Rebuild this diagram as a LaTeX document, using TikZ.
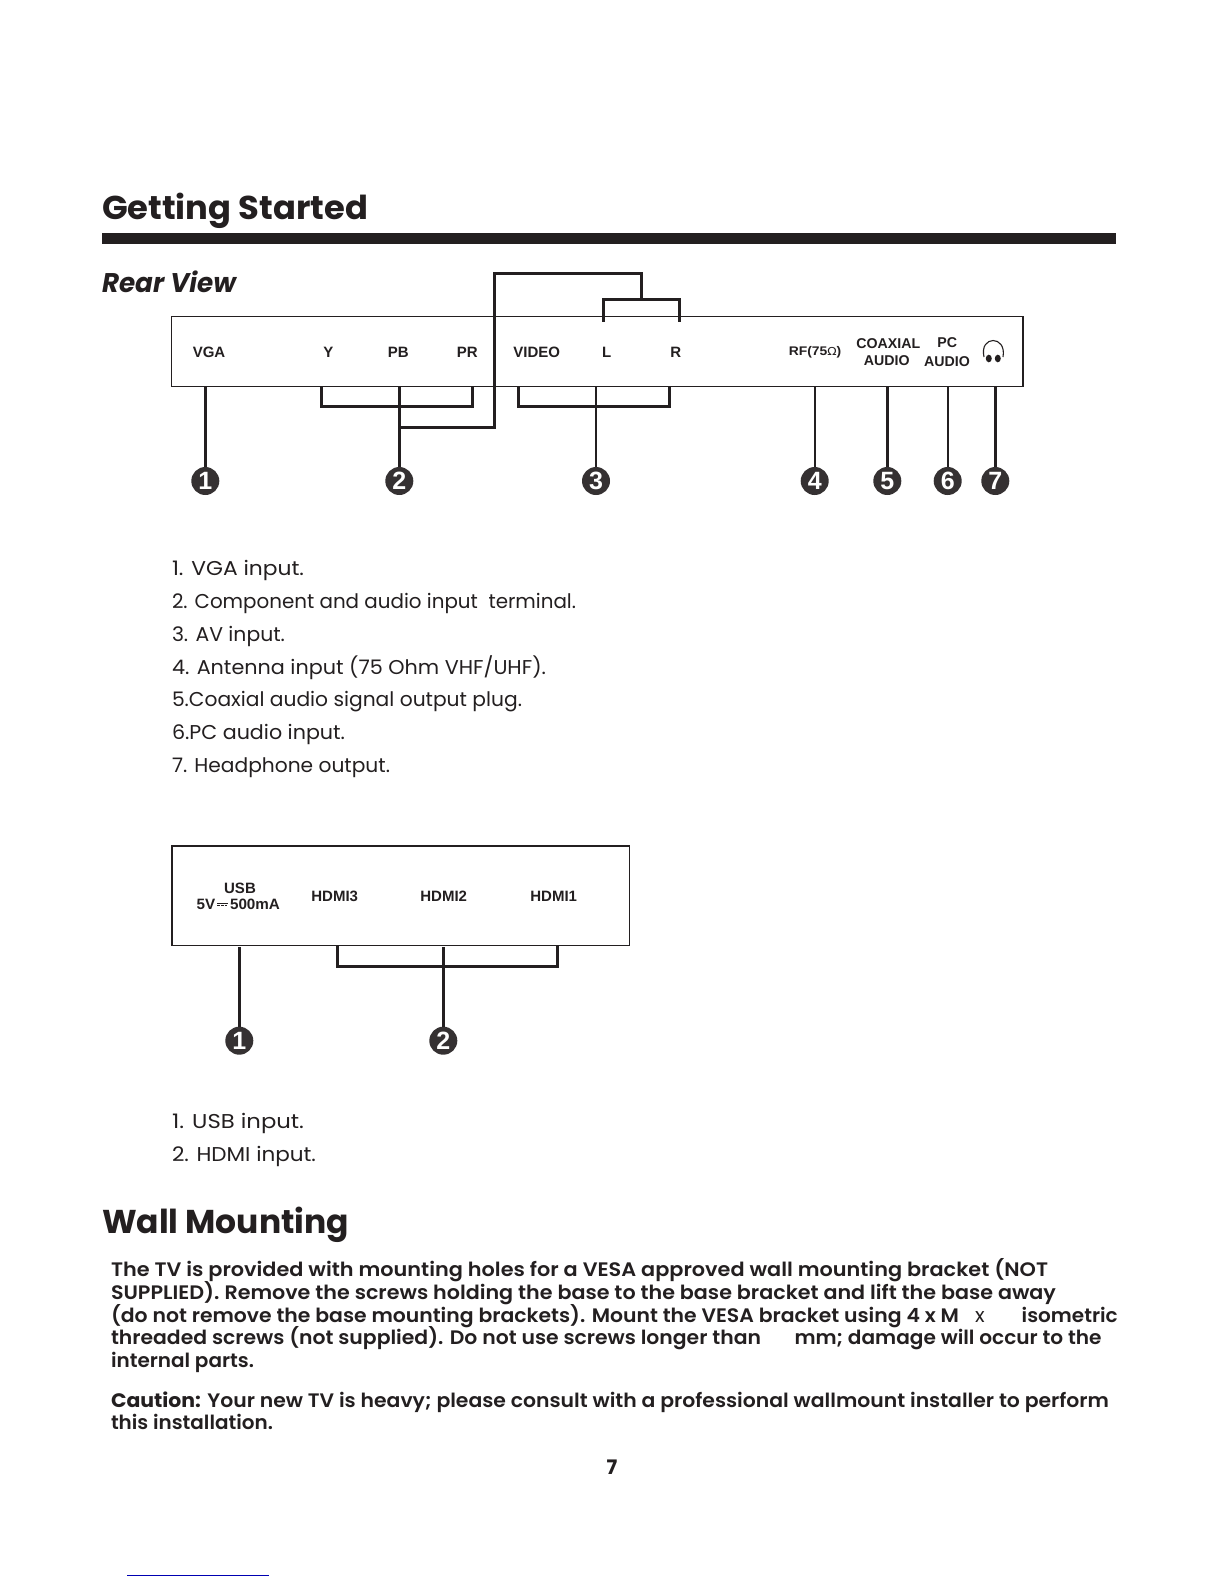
\documentclass[tikz,border=0pt]{standalone}
\usepackage{fontspec}
\usepackage{graphicx}
\setmainfont{Poppins}
\newfontfamily\headf{Poppins}[UprightFont=* Bold,BoldFont=* Bold,ItalicFont=* Bold Italic]
\newfontfamily\bodyf{Poppins}[UprightFont=* SemiBold,BoldFont=* Bold]
\newfontfamily\listf{Poppins}
\newfontfamily\labf{Liberation Sans}
\newfontfamily\symf{DejaVu Sans}
\newcommand{\fitw}[2]{\resizebox{#1pt}{\height}{#2}}
\definecolor{ink}{HTML}{231F20}
\tikzset{
  x=1pt,y=-1pt,
  txt/.style={inner sep=0pt,outer sep=0pt,anchor=base west,text=ink},
  lab/.style={inner sep=0pt,outer sep=0pt,anchor=base,text=ink,font=\labf\bfseries\fontsize{15}{16}\selectfont},
  panel/.style={draw=ink,line width=1.4pt,inner sep=0pt,outer sep=0pt,fill=none},
  wire/.style={draw=ink,line width=3pt,line join=miter},
  thin wire/.style={draw=ink,line width=2.2pt,line join=miter},
  badge/.style={circle,fill=ink!92!white,text=white,inner sep=0pt,minimum size=28pt,font=\labf\bfseries\fontsize{25}{25}\selectfont},
  head/.style={txt,font=\headf\fontsize{33}{36}\selectfont},
  listline/.style={txt,font=\listf\fontsize{20}{24}\selectfont},
  bodyline/.style={txt,font=\bodyf\fontsize{19.5}{24}\selectfont},
}
\begin{document}
\begin{tikzpicture}
\useasboundingbox (0,0) rectangle (1224,1584);
\fill[white] (0,0) rectangle (1224,1584);

% headings
\node[head] (h1) at (102,219) {\fitw{266}{Getting Started}};
\fill[ink] (102,233) rectangle (1116,244);
\node[head,font=\headf\itshape\fontsize{27}{30}\selectfont] (h2) at (102,292) {\fitw{134}{Rear View}};
\node[head] (h3) at (102,1233.5) {\fitw{247}{Wall Mounting}};

% rear panel
\node[panel,minimum width=851.3pt,minimum height=70pt] (panel1) at (597.35,351.7) {};
\node[lab] (lvga) at (209,357.3) {VGA};
\node[lab] (ly) at (328.3,357.3) {Y};
\node[lab] (lpb) at (398.3,357.3) {PB};
\node[lab] (lpr) at (467.3,357.3) {PR};
\node[lab] (lvid) at (536.7,357.3) {VIDEO};
\node[lab] (ll) at (606.7,357.3) {L};
\node[lab] (lr) at (675.7,357.3) {R};
\node[lab,font=\labf\bfseries\fontsize{12.5}{14}\selectfont] (lrf) at (815,355.7) {\fitw{52.5}{RF(75{\symf\mdseries\fontsize{11}{12}\selectfont Ω})}};
\node[lab,font=\labf\bfseries\fontsize{14.2}{16}\selectfont] (lco) at (888.3,348.7) {COAXIAL};
\node[lab,font=\labf\bfseries\fontsize{14.2}{16}\selectfont] (lau) at (886.7,365) {AUDIO};
\node[lab,font=\labf\bfseries\fontsize{14.2}{16}\selectfont] (lpc) at (947.3,347.7) {PC};
\node[lab,font=\labf\bfseries\fontsize{14.2}{16}\selectfont] (lau2) at (947,366) {AUDIO};

% headphone icon
\draw[ink,line width=1.1pt] (984,357) .. controls (979,335) and (1007,335) .. (1003,357);
\fill[ink] (988.8,358.5) ellipse (3 and 3.8);
\fill[ink] (997.8,358.5) ellipse (3 and 3.8);

% rear badges
\node[badge] (c1) at (205.3,481) {1};
\node[badge] (c2) at (399.3,481) {2};
\node[badge] (c3) at (596,481) {3};
\node[badge] (c4) at (814.7,481) {4};
\node[badge] (c5) at (887.3,481) {5};
\node[badge] (c6) at (947.7,481) {6};
\node[badge] (c7) at (995.3,481) {7};

% rear connector anchors
\coordinate (p1) at (205.3,386.7);
\coordinate (p2) at (399.3,386.7);
\coordinate (p2a) at (321.3,386.7);
\coordinate (p2b) at (472,386.7);
\coordinate (b2a) at (321.3,406);
\coordinate (b2b) at (472,406);
\coordinate (j2) at (399.3,427.3);
\coordinate (r1) at (494.3,427.3);
\coordinate (r2) at (494.3,273.3);
\coordinate (r3) at (641,273.3);
\coordinate (r4) at (641,299.3);
\coordinate (t1) at (603.3,321.7);
\coordinate (t2) at (603.3,299.3);
\coordinate (t3) at (679.3,299.3);
\coordinate (t4) at (679.3,321.7);
\coordinate (p3) at (596,386.7);
\coordinate (p3a) at (518.3,386.7);
\coordinate (p3b) at (669,386.7);
\coordinate (b3a) at (518.3,406);
\coordinate (b3b) at (669,406);
\coordinate (p4) at (814.7,386.7);
\coordinate (p5) at (887.3,386.7);
\coordinate (p6) at (947.7,386.7);
\coordinate (p7) at (995.3,386.7);

\draw[wire] (p1) -- (c1);
\draw[wire] (p2) -- (c2);
\draw[wire] (p2a) -- (b2a) -- (b2b) -- (p2b);
\draw[wire] (j2) -- (r1) -- (r2) -- (r3) -- (r4);
\draw[wire] (t1) -- (t2) -- (t3) -- (t4);
\draw[thin wire] (p3) -- (c3);
\draw[wire] (p3a) -- (b3a) -- (b3b) -- (p3b);
\draw[thin wire] (p4) -- (c4);
\draw[wire] (p5) -- (c5);
\draw[thin wire] (p6) -- (c6);
\draw[wire] (p7) -- (c7);

% list 1
\node[listline] (a1) at (172,575) {\fitw{132}{1. VGA input.}};
\node[listline] (a2) at (172,608) {\fitw{404}{2. Component and audio input\ \ terminal.}};
\node[listline] (a3) at (172,641) {\fitw{113}{3. AV input.}};
\node[listline] (a4) at (172,674) {\fitw{374}{4. Antenna input (75 Ohm VHF/UHF).}};
\node[listline] (a5) at (172,706.5) {\fitw{350}{5.Coaxial audio signal output plug.}};
\node[listline] (a6) at (172,739.5) {\fitw{173}{6.PC audio input.}};
\node[listline] (a7) at (172,772.3) {\fitw{218}{7. Headphone output.}};

% side panel
\node[panel,line width=1.6pt,minimum width=457.6pt,minimum height=99.6pt] (panel2) at (400.5,895.5) {};
\node[lab] (lu) at (240,893.3) {USB};
\node[lab,anchor=base west] (lu5) at (196.7,909.5) {\fitw{83.3}{5V\hspace{14.5pt}500mA}};
\node[lab] (lh3) at (334.7,901.3) {HDMI3};
\node[lab] (lh2) at (443.7,901.3) {HDMI2};
\node[lab] (lh1) at (553.7,901.3) {HDMI1};
% direct-current symbol (no installed font has it)
\draw[ink,line width=0.8pt] (217.3,903) -- (228.3,903);
\draw[ink,line width=0.8pt,dash pattern=on 2.5pt off 1.2pt] (217.3,905.2) -- (228.3,905.2);

\node[badge] (d1) at (239.3,1040.7) {1};
\node[badge] (d2) at (443.3,1040.7) {2};
\coordinate (q1) at (239.3,947.3);
\coordinate (q2) at (443.3,947.3);
\coordinate (q2a) at (337.7,945.3);
\coordinate (q2b) at (557.7,945.3);
\coordinate (e2a) at (337.7,966);
\coordinate (e2b) at (557.7,966);
\draw[wire] (q1) -- (d1);
\draw[wire] (q2) -- (d2);
\draw[wire] (q2a) -- (e2a) -- (e2b) -- (q2b);

% list 2
\node[listline] (u1) at (172,1128) {\fitw{132}{1. USB input.}};
\node[listline] (u2) at (172,1161.3) {\fitw{144}{2. HDMI input.}};

% body text
\node[bodyline] (w1) at (111,1276) {\fitw{937}{The TV is provided with mounting holes for a VESA approved wall mounting bracket (NOT}};
\node[bodyline] (w2) at (111,1299) {\fitw{945}{SUPPLIED). Remove the screws holding the base to the base bracket and lift the base away}};
\node[bodyline] (w3) at (111,1322) {\fitw{848}{(do not remove the base mounting brackets). Mount the VESA bracket using 4 x M}};
\node[listline] (w3x) at (975,1322) {x};
\node[bodyline] (w3b) at (1021.7,1322) {\fitw{96}{isometric}};
\node[bodyline] (w4) at (111,1344) {\fitw{650}{threaded screws (not supplied). Do not use screws longer than}};
\node[bodyline] (w4b) at (794.5,1344) {\fitw{307}{mm; damage will occur to the}};
\node[bodyline] (w5) at (111,1367) {\fitw{143}{internal parts.}};
\node[bodyline] (w6) at (111,1407) {\fitw{998}{{\bfseries Caution:} Your new TV is heavy; please consult with a professional wallmount installer to perform}};
\node[bodyline] (w7) at (111,1429) {\fitw{162}{this installation.}};
\node[bodyline,anchor=base,font=\bodyf\bfseries\fontsize{20}{24}\selectfont] (pg) at (612,1474) {7};

% stray blue rule
\draw[blue!70!black,line width=1pt] (127,1575) -- (269,1575);
\end{tikzpicture}
\end{document}
